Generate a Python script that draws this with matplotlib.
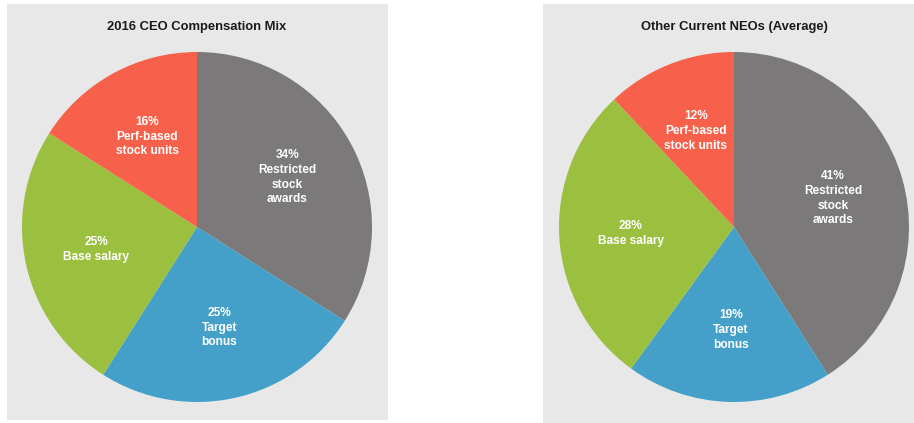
import matplotlib as mpl
import matplotlib.pyplot as plt

# data
categories = ['Restricted\nstock\nawards', 'Target\nbonus', 'Base salary', 'Perf-based\nstock units']
ceo_share = [34, 25, 25, 16]
neo_share = [41, 19, 28, 12]
titles = ['2016 CEO Compensation Mix', 'Other Current NEOs (Average)']
colors = ['#7b797a', '#44a0c9', '#9bc03f', '#f7604a']

# configuration
mpl.rcParams['font.family'] = ['Liberation Sans', 'DejaVu Sans']
W, H = 914, 423
fig = plt.figure(figsize=(W / 100, H / 100), dpi=100)
fig.patch.set_facecolor('white')

# panel rectangles in pixels (left, top, right, bottom) and pie center / radius
panels = [((7, 4, 388, 420), (197, 227)), ((543, 4, 914, 423), (734, 227))]
R = 175.0

for (box, center), share, title in zip(panels, [ceo_share, neo_share], titles):
    l, t, r, b = box
    ax = fig.add_axes([l / W, 1 - b / H, (r - l) / W, (b - t) / H])
    ax.set_facecolor('#e8e8e8')
    for s in ax.spines.values():
        s.set_visible(False)
    ax.set_xticks([])
    ax.set_yticks([])

    labels = ['%d%%\n%s' % (v, c) for v, c in zip(share, categories)]
    wedges, texts = ax.pie(share, colors=colors, labels=labels, startangle=90,
                           counterclock=False, labeldistance=0.59,
                           wedgeprops=dict(linewidth=0),
                           textprops=dict(color='white', fontsize=8.6, fontweight='bold',
                                          ha='center', va='center', linespacing=1.3))
    cx, cy = center
    ax.set_aspect('auto')
    ax.set_xlim((l - cx) / R, (r - cx) / R)
    ax.set_ylim((cy - b) / R, (cy - t) / R)
    ax.set_frame_on(True)
    ax.text(0, (cy - 27) / R, title, ha='center', va='center',
            fontsize=9.4, fontweight='bold', color='#1a1a1a')

plt.savefig('out.png', dpi=100, facecolor='white')
